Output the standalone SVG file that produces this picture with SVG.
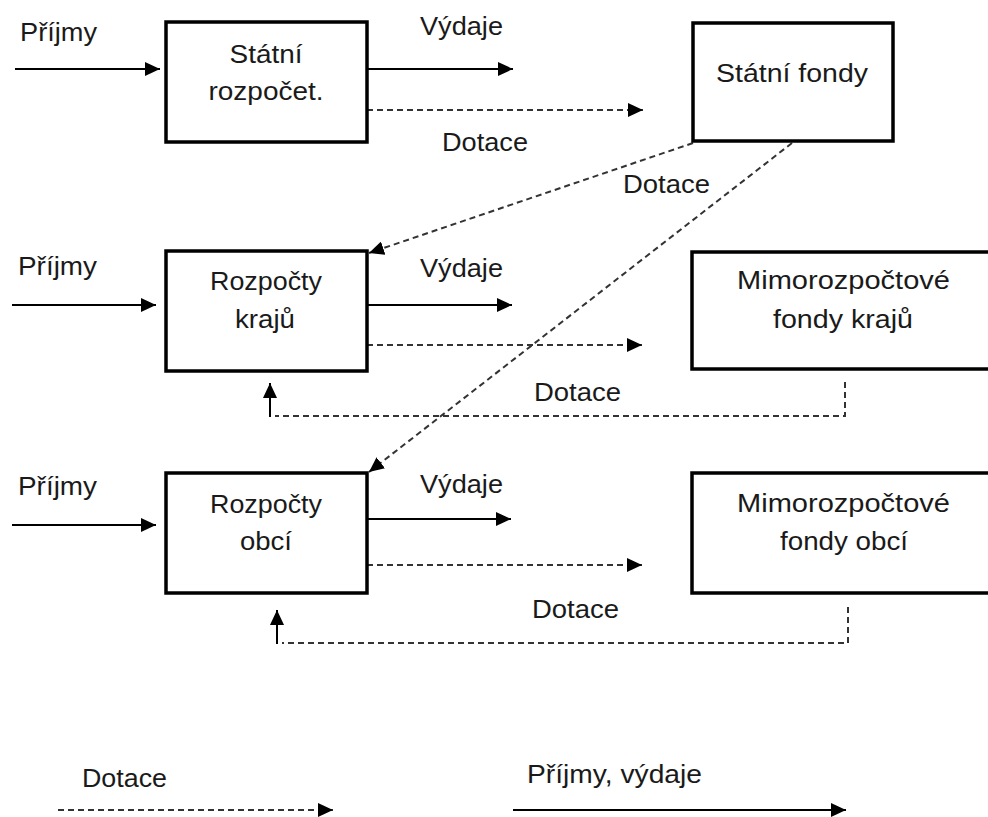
<svg xmlns="http://www.w3.org/2000/svg" width="988" height="817" viewBox="0 0 988 817">
<style>
text{font-family:"Liberation Sans",Arial,sans-serif;font-size:25px;fill:#1a1a1a}
.c{text-anchor:middle}
.box{fill:#fff;stroke:#000;stroke-width:3.5}
.s{fill:none;stroke:#000;stroke-width:2}
.d{fill:none;stroke:#333;stroke-width:2;stroke-dasharray:6 4}
</style>
<defs>
<marker id="ah" markerUnits="userSpaceOnUse" markerWidth="16" markerHeight="14" refX="15" refY="7" orient="auto">
<path d="M0,0 L15,7 L0,14 Z" fill="#000"/>
</marker>
</defs>
<rect width="988" height="817" fill="#fff"/>
<g id="connectors">
<line class="s" x1="15" y1="69" x2="160" y2="69" marker-end="url(#ah)"/>
<line class="s" x1="367" y1="69" x2="513" y2="69" marker-end="url(#ah)"/>
<line class="d" x1="367" y1="110" x2="643" y2="110" marker-end="url(#ah)"/>
<line class="d" x1="693" y1="143" x2="369" y2="253" marker-end="url(#ah)"/>
<line class="d" x1="792" y1="143" x2="369" y2="472" marker-end="url(#ah)"/>
<line class="s" x1="12" y1="305" x2="156" y2="305" marker-end="url(#ah)"/>
<line class="s" x1="367" y1="305" x2="512" y2="305" marker-end="url(#ah)"/>
<line class="d" x1="367" y1="345" x2="642" y2="345" marker-end="url(#ah)"/>
<polyline class="d" points="845,382 845,416 275,416"/>
<line class="s" x1="270" y1="417" x2="270" y2="383" marker-end="url(#ah)"/>
<line class="s" x1="12" y1="525" x2="156" y2="525" marker-end="url(#ah)"/>
<line class="s" x1="367" y1="519" x2="511" y2="519" marker-end="url(#ah)"/>
<line class="d" x1="367" y1="565" x2="642" y2="565" marker-end="url(#ah)"/>
<polyline class="d" points="848,607 848,643 282,643"/>
<line class="s" x1="277" y1="644" x2="277" y2="610" marker-end="url(#ah)"/>
<line class="d" x1="58" y1="810" x2="333" y2="810" marker-end="url(#ah)"/>
<line class="s" x1="513" y1="810" x2="846" y2="810" marker-end="url(#ah)"/>
</g>
<g id="labels">
<text x="20" y="41" textLength="77" lengthAdjust="spacingAndGlyphs">Příjmy</text>
<text x="420" y="35" textLength="83" lengthAdjust="spacingAndGlyphs">Výdaje</text>
<text x="442" y="151" textLength="86" lengthAdjust="spacingAndGlyphs">Dotace</text>
<text x="623" y="193" textLength="87" lengthAdjust="spacingAndGlyphs">Dotace</text>
<text x="18" y="275" textLength="79" lengthAdjust="spacingAndGlyphs">Příjmy</text>
<text x="420" y="277" textLength="83" lengthAdjust="spacingAndGlyphs">Výdaje</text>
<text x="534" y="401" textLength="87" lengthAdjust="spacingAndGlyphs">Dotace</text>
<text x="18" y="495" textLength="79" lengthAdjust="spacingAndGlyphs">Příjmy</text>
<text x="420" y="493" textLength="83" lengthAdjust="spacingAndGlyphs">Výdaje</text>
<text x="532" y="618" textLength="87" lengthAdjust="spacingAndGlyphs">Dotace</text>
<text x="82" y="787" textLength="85" lengthAdjust="spacingAndGlyphs">Dotace</text>
<text x="527" y="783" textLength="175" lengthAdjust="spacingAndGlyphs">Příjmy, výdaje</text>
</g>
<g id="statni-rozpocet">
<rect class="box" x="166" y="22" width="201" height="120"/>
<text class="c" x="266" y="63" textLength="73" lengthAdjust="spacingAndGlyphs">Státní</text>
<text class="c" x="266" y="100" textLength="115" lengthAdjust="spacingAndGlyphs">rozpočet.</text>
</g>
<g id="statni-fondy">
<rect class="box" x="693" y="23" width="200" height="118"/>
<text class="c" x="792" y="82" textLength="152" lengthAdjust="spacingAndGlyphs">Státní fondy</text>
</g>
<g id="rozpocty-kraju">
<rect class="box" x="166" y="251" width="201" height="120"/>
<text class="c" x="266" y="290" textLength="112" lengthAdjust="spacingAndGlyphs">Rozpočty</text>
<text class="c" x="265" y="328" textLength="60" lengthAdjust="spacingAndGlyphs">krajů</text>
</g>
<g id="mimo-kraju">
<rect class="box" x="692" y="252" width="310" height="117"/>
<text class="c" x="843.5" y="289" textLength="213" lengthAdjust="spacingAndGlyphs">Mimorozpočtové</text>
<text class="c" x="843" y="328" textLength="140" lengthAdjust="spacingAndGlyphs">fondy krajů</text>
</g>
<g id="rozpocty-obci">
<rect class="box" x="166" y="473" width="201" height="120"/>
<text class="c" x="266" y="513" textLength="112" lengthAdjust="spacingAndGlyphs">Rozpočty</text>
<text class="c" x="266" y="550" textLength="52" lengthAdjust="spacingAndGlyphs">obcí</text>
</g>
<g id="mimo-obci">
<rect class="box" x="692" y="473" width="310" height="120"/>
<text class="c" x="843.5" y="512" textLength="213" lengthAdjust="spacingAndGlyphs">Mimorozpočtové</text>
<text class="c" x="844" y="550" textLength="128" lengthAdjust="spacingAndGlyphs">fondy obcí</text>
</g>
</svg>
